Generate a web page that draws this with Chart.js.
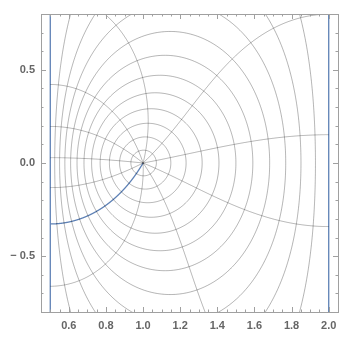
<!DOCTYPE html>
<html>
<head>
<meta charset="utf-8">
<script src="https://cdn.jsdelivr.net/npm/chart.js@4.4.1/dist/chart.umd.min.js"></script>
<style>
  html, body { margin: 0; background: #fff; }
  #wrap { width: 352px; height: 340px; }
</style>
</head>
<body>
<div id="wrap"><canvas id="chart"></canvas></div>
<script>
// Values
const stripEdges = [0.5, 2.0];          // the two blue boundary lines
const centreX = 1.0;                    // where all rays meet
const ringLevels = [0.083, 0.167, 0.25, 0.333, 0.417, 0.5, 0.583, 0.667, 0.75, 0.833, 0.917];
const seamAngle = 299.5;                // blue cut, degrees
const rayAngles = [332.2, 4.9, 37.6, 70.4, 103.1, 135.8, 168.6, 201.3, 234.1, 266.8];
const xTicks = [0.6, 0.8, 1.0, 1.2, 1.4, 1.6, 1.8, 2.0];
const yTicks = [-0.5, 0, 0.5];
const yTickLabels = ['\u2212 0.5', '0.0', '0.5'];

const meshColor = 'rgba(0,0,0,0.3)';
const edgeColor = '#5e81b5';

// disk mesh point (r, angle) -> point of the strip between the blue lines
const width = stripEdges[1] - stripEdges[0];
const phi0 = Math.PI * (centreX - stripEdges[0]) / width;
function toStrip(r, deg) {
  const t = deg * Math.PI / 180;
  const zr = r * Math.cos(t), zi = r * Math.sin(t);
  const c = Math.cos(phi0), s = Math.sin(phi0);
  // (z * conj(u0) - u0) / (z - 1)
  const nr = zr * c + zi * s - c;
  const ni = zi * c - zr * s - s;
  const dr = zr - 1, di = zi;
  const dd = dr * dr + di * di;
  const ur = (nr * dr + ni * di) / dd;
  const ui = (ni * dr - nr * di) / dd;
  return {
    x: stripEdges[0] + width / Math.PI * Math.atan2(ui, ur),
    y: -width / Math.PI * Math.log(Math.hypot(ur, ui))
  };
}

function ring(r) {
  const pts = [];
  for (let a = 0; a <= 360; a += 1) pts.push(toStrip(r, a));
  return pts;
}

function ray(deg) {
  const pts = [];
  for (let i = 0; i < 400; i++) pts.push(toStrip(i / 400, deg));
  pts.push(toStrip(0.999, deg), toStrip(0.99995, deg));
  return pts;
}

const datasets = [];
ringLevels.forEach(r => datasets.push({ data: ring(r), borderColor: meshColor, borderWidth: 1 }));
rayAngles.forEach(a => datasets.push({ data: ray(a), borderColor: meshColor, borderWidth: 1 }));
datasets.push({ data: ray(seamAngle), borderColor: edgeColor, borderWidth: 1.3 });
stripEdges.forEach(x => datasets.push({
  data: [{ x, y: -0.8 }, { x, y: 0.8 }], borderColor: edgeColor, borderWidth: 1.3
}));

const frameTicks = {
  id: 'frameTicks',
  afterDraw(chart) {
    const { ctx, chartArea: a, scales: { x, y } } = chart;
    ctx.save();
    ctx.strokeStyle = '#a0a0a0';
    ctx.lineWidth = 1;
    ctx.strokeRect(a.left + 0.5, a.top + 0.5, a.right - a.left, a.bottom - a.top);
    ctx.beginPath();
    for (let v = 0.5; v <= 2.0001; v += 0.05) {
      const px = Math.round(x.getPixelForValue(v)) + 0.5;
      const major = xTicks.some(t => Math.abs(t - v) < 1e-6);
      const len = major ? 5 : 2.5;
      ctx.moveTo(px, a.bottom); ctx.lineTo(px, a.bottom - len);
      ctx.moveTo(px, a.top); ctx.lineTo(px, a.top + len);
    }
    for (let v = -0.7; v <= 0.7001; v += 0.1) {
      const py = Math.round(y.getPixelForValue(v)) + 0.5;
      const major = yTicks.some(t => Math.abs(t - v) < 1e-6);
      const len = major ? 5 : 2.5;
      ctx.moveTo(a.left, py); ctx.lineTo(a.left + len, py);
      ctx.moveTo(a.right, py); ctx.lineTo(a.right - len, py);
    }
    ctx.stroke();
    ctx.restore();
  }
};

new Chart(document.getElementById('chart'), {
  type: 'scatter',
  data: { datasets },
  options: {
    responsive: true,
    maintainAspectRatio: false,
    animation: false,
    layout: { padding: { top: 14, right: 14, left: 0, bottom: 0 } },
    // tiny tension keeps Chart.js off its per-pixel fast path, which darkens steep lines
    elements: { point: { radius: 0 }, line: { tension: 0.001, capBezierPoints: false } },
    datasets: { scatter: { showLine: true, pointRadius: 0 } },
    plugins: { legend: { display: false }, tooltip: { enabled: false } },
    scales: {
      x: {
        min: 0.45, max: 2.05,
        grid: { display: false, drawTicks: false },
        border: { display: false },
        afterBuildTicks: s => { s.ticks = xTicks.map(v => ({ value: v })); },
        afterFit: s => { s.height = 28; },
        ticks: { padding: 7, color: '#666', font: { family: 'Liberation Sans', size: 11, weight: 'bold' },
                 callback: v => v.toFixed(1) }
      },
      y: {
        min: -0.8, max: 0.8,
        grid: { display: false, drawTicks: false },
        border: { display: false },
        afterBuildTicks: s => { s.ticks = yTicks.map(v => ({ value: v })); },
        afterFit: s => { s.width = 41; },
        ticks: { padding: 6, color: '#666', font: { family: 'Liberation Sans', size: 11, weight: 'bold' },
                 callback: v => yTickLabels[yTicks.indexOf(v)] }
      }
    }
  },
  plugins: [frameTicks]
});
</script>
</body>
</html>
